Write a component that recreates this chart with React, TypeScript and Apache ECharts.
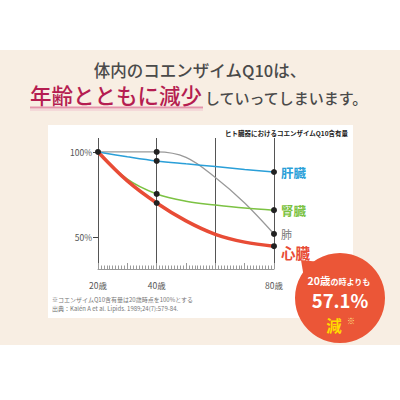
import { useEffect, useRef } from 'react';
import * as echarts from 'echarts';

const FONT = '"Noto Sans CJK JP", "Noto Sans", sans-serif';

// ages on the x axis
const ages = [20, 30, 40, 50, 60, 70, 80];

// Q10 content (%), 20 years = 100
const liver = [100, 97.2, 94.7, 93, 91.4, 89.7, 88.2];
const kidney = [100, 84, 75.3, 71, 68.8, 67, 65.8];
const lung = [100, 100, 100, 96.8, 85, 70, 51.8];
const heart = [100, 83, 70, 59.5, 51.6, 47, 44.6];

// ages where a black dot is drawn
const heartDots = [20, 40, 80];
const otherDots = [40, 80];

const yTicks = [50, 100];
const xLabels = [20, 40, 80];

export default function App() {
  const chartRef = useRef<HTMLDivElement>(null);

  useEffect(() => {
    if (!chartRef.current) return;
    const chart = echarts.init(chartRef.current, null, { renderer: 'svg' });

    const toData = (vals: number[], dots: number[], label: any) =>
      ages.map((a, i) => {
        const item: any = { value: [a, vals[i]], symbolSize: dots.includes(a) ? 6 : 0 };
        if (i === ages.length - 1) item.label = { show: true, position: 'right', distance: 4, ...label };
        return item;
      });

    const lineSeries = (name: string, vals: number[], dots: number[], color: string, width: number, label: any, z: number) => ({
      name,
      type: 'line',
      data: toData(vals, dots, { formatter: name, color, fontFamily: FONT, ...label }),
      smooth: 0.35,
      symbol: 'circle',
      symbolSize: 0,
      showSymbol: true,
      itemStyle: { color: '#222' },
      lineStyle: { color, width },
      z,
    });

    const option: any = {
      animation: false,
      graphic: [
        { type: 'rect', silent: true, z: -10, shape: { x: 0, y: 50, width: 400, height: 295 }, style: { fill: '#f8eee3' } },
        { type: 'rect', silent: true, z: -9, shape: { x: 48, y: 125, width: 305, height: 193 }, style: { fill: '#ffffff' } },
        {
          type: 'text', x: 200, y: 70,
          style: { text: '体内のコエンザイムQ10は、', fill: '#4a4a4a', fontSize: 16.5, fontWeight: 500, fontFamily: FONT, align: 'center', verticalAlign: 'middle' },
        },
        {
          type: 'text', x: 30, y: 94,
          style: { text: '年齢とともに減少', fill: '#b51d51', fontSize: 21.5, fontWeight: 500, fontFamily: FONT, align: 'left', verticalAlign: 'middle' },
        },
        {
          type: 'text', x: 205, y: 97,
          style: { text: 'していってしまいます。', fill: '#4a4a4a', fontSize: 15, fontWeight: 500, fontFamily: FONT, align: 'left', verticalAlign: 'middle' },
        },
        { type: 'rect', silent: true, shape: { x: 30, y: 106.5, width: 173, height: 2 }, style: { fill: '#e493ab' } },
        { type: 'rect', silent: true, shape: { x: 30, y: 109.5, width: 173, height: 1 }, style: { fill: '#f0c3cf' } },
        {
          type: 'text', x: 348, y: 133,
          style: { text: 'ヒト臓器におけるコエンザイムQ10含有量', fill: '#222', fontSize: 6.5, fontWeight: 'bold', fontFamily: FONT, align: 'right', verticalAlign: 'middle' },
        },
        {
          type: 'text', x: 52, y: 299,
          style: { text: '※コエンザイムQ10含有量は20歳時点を100%とする', fill: '#777', fontSize: 6, fontFamily: FONT, align: 'left', verticalAlign: 'middle' },
        },
        {
          type: 'text', x: 52, y: 308,
          style: { text: '出典：Kalén A et al. Lipids. 1989;24(7):579-84.', fill: '#777', fontSize: 6, fontFamily: FONT, align: 'left', verticalAlign: 'middle' },
        },
        { type: 'polygon', z: 10, shape: { points: [[301, 260], [304, 278], [320, 262]] }, style: { fill: '#eb5637' } },
        { type: 'circle', z: 10, shape: { cx: 340, cy: 298, r: 45 }, style: { fill: '#eb5637' } },
        {
          type: 'text', z: 11, x: 339, y: 280,
          style: {
            text: '{a|20歳}{b|の時よりも}',
            align: 'center', verticalAlign: 'middle',
            rich: {
              a: { fill: '#fff', fontSize: 10.5, fontWeight: 'bold', fontFamily: FONT, verticalAlign: 'bottom', lineHeight: 11 },
              b: { fill: '#fff', fontSize: 8, fontWeight: 'bold', fontFamily: FONT, verticalAlign: 'bottom', lineHeight: 11 },
            },
          },
        },
        {
          type: 'text', z: 11, x: 340, y: 300,
          style: { text: '57.1%', fill: '#fff', fontSize: 18.5, fontWeight: 'bold', fontFamily: FONT, align: 'center', verticalAlign: 'middle', lineHeight: 16 },
        },
        {
          type: 'text', z: 11, x: 334, y: 325,
          style: { text: '減', fill: '#ffdc00', fontSize: 15.5, fontWeight: 'bold', fontFamily: FONT, align: 'center', verticalAlign: 'middle', lineHeight: 16 },
        },
        {
          type: 'text', z: 11, x: 351, y: 320,
          style: { text: '※', fill: '#ffe98a', fontSize: 8, fontFamily: FONT, align: 'center', verticalAlign: 'middle', lineHeight: 8 },
        },
      ],
      grid: { left: 98, right: 126, top: 138, bottom: 131, containLabel: false },
      xAxis: [
        {
          type: 'value', min: 20, max: 80, interval: 10,
          axisLine: { show: true, lineStyle: { color: '#9a9a9a', width: 1 } },
          axisTick: { show: true, inside: true, length: 6, lineStyle: { color: '#9a9a9a' } },
          minorTick: { show: true, splitNumber: 10, length: 3.5, lineStyle: { color: '#9a9a9a' } },
          axisLabel: { customValues: xLabels, formatter: '{value}歳', color: '#555', fontSize: 8.5, fontFamily: FONT, margin: 12 },
          splitLine: { show: false },
        },
        {
          type: 'value', min: 20, max: 80, interval: 20, position: 'bottom',
          axisLine: { show: false }, axisTick: { show: false }, axisLabel: { show: false },
          splitLine: { show: true, lineStyle: { color: '#555', width: 1 } },
        },
      ],
      yAxis: {
        type: 'value', min: 31.2, max: 108.2,
        axisLine: { show: false },
        axisTick: { show: true, customValues: yTicks, length: 5, lineStyle: { color: '#444' } },
        axisLabel: { customValues: yTicks, formatter: '{value}%', color: '#555', fontSize: 8.5, fontFamily: FONT, margin: 6 },
        splitLine: { show: false },
      },
      series: [
        lineSeries('肺', lung, otherDots, '#999999', 1.3, { fontSize: 11, color: '#777' }, 2),
        lineSeries('肝臓', liver, otherDots, '#2a9fd8', 1.5, { fontSize: 12.5, fontWeight: 'bold' }, 3),
        lineSeries('腎臓', kidney, otherDots, '#7cc243', 1.5, { fontSize: 12.5, fontWeight: 'bold' }, 4),
        lineSeries('心臓', heart, heartDots, '#e84c36', 3.5, { fontSize: 14.5, fontWeight: 'bold', offset: [0, 6] }, 5),
      ],
    };

    chart.setOption(option);
    return () => chart.dispose();
  }, []);

  return <div ref={chartRef} style={{ position: 'absolute', left: 0, top: 0, width: 400, height: 400 }} />;
}
